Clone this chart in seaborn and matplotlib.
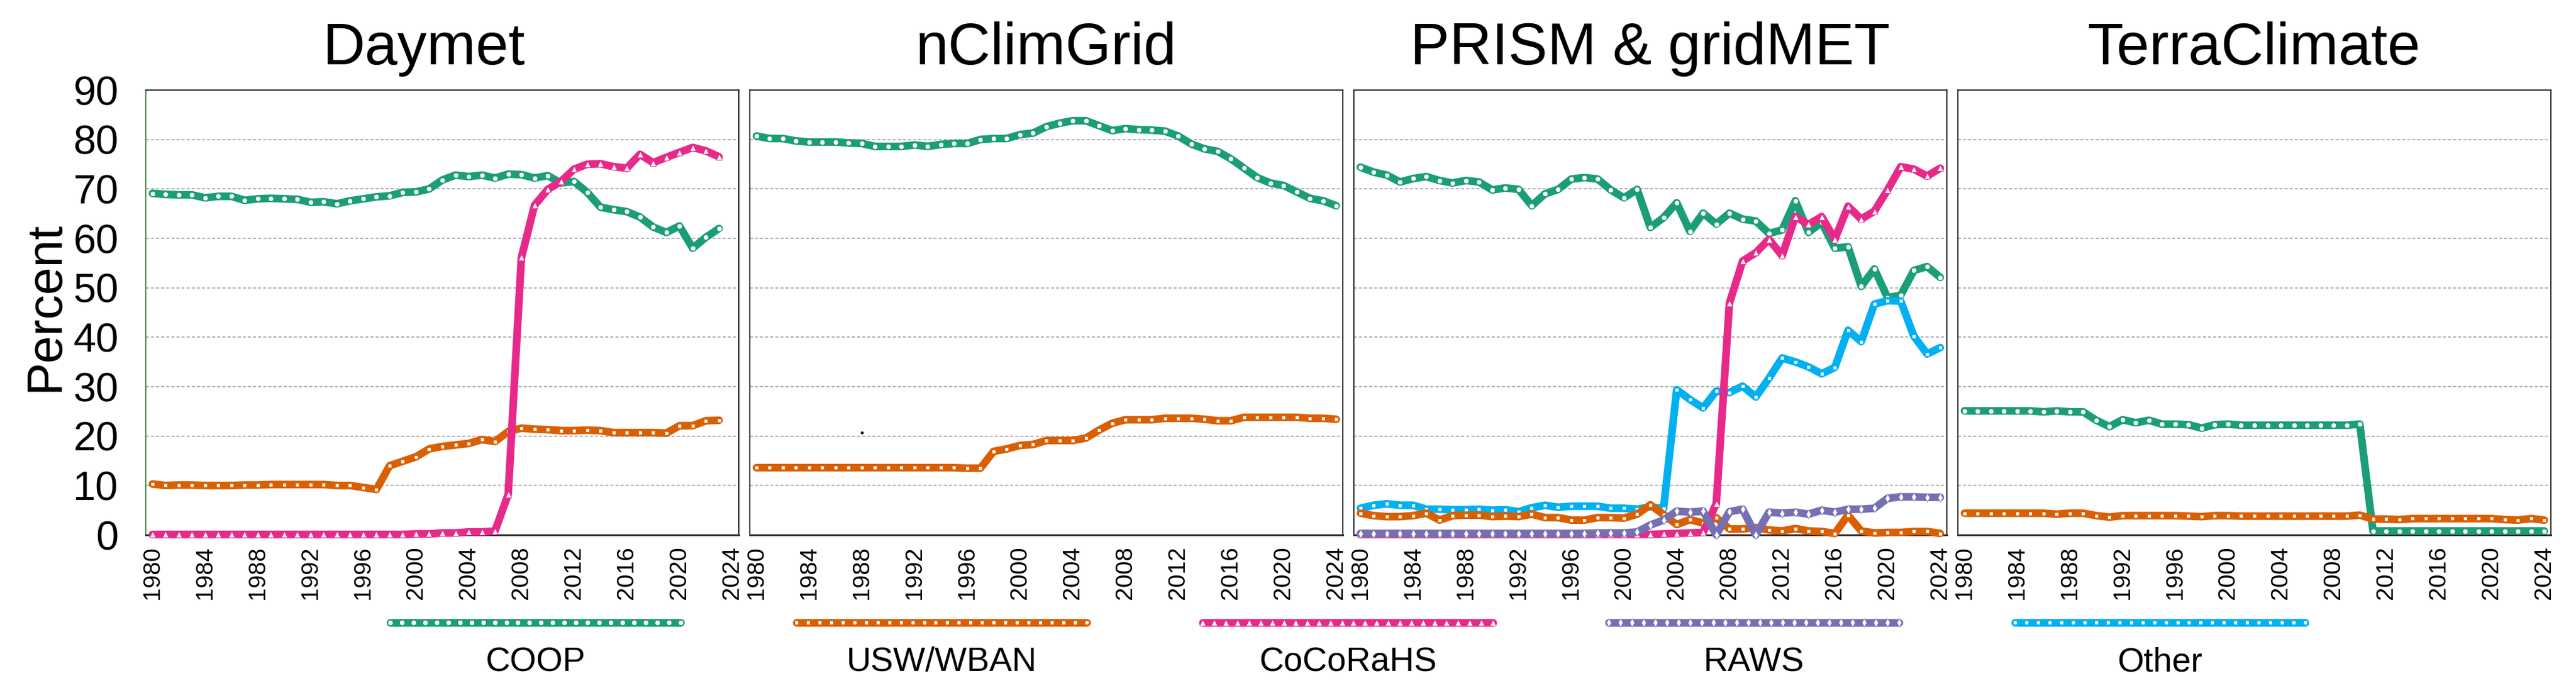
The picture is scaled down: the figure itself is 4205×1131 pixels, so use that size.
import numpy as np
import pandas as pd
import seaborn as sns
import matplotlib.pyplot as plt
from matplotlib.lines import Line2D

# Category axis: one slot per year, 1980-2024
years = list(range(1980, 2025))

# Daymet (no 2024 value)
daymet_coop = [69.1, 68.9, 68.8, 68.8, 68.2, 68.5, 68.5, 67.7, 68.0, 68.1,
               68.0, 67.9, 67.3, 67.4, 67.0, 67.6, 68.0, 68.4, 68.6, 69.3,
               69.4, 70.0, 71.8, 72.8, 72.5, 72.8, 72.2, 73.0, 72.9, 72.2,
               72.7, 71.2, 71.5, 69.3, 66.3, 65.8, 65.4, 64.3, 62.3, 61.2,
               62.5, 58.0, 60.2, 62.0]
daymet_usw = [10.3, 10.0, 10.1, 10.1, 10.0, 10.0, 10.0, 10.1, 10.1, 10.2,
              10.2, 10.2, 10.2, 10.2, 10.0, 10.0, 9.6, 9.2, 14.0, 14.9,
              15.8, 17.4, 17.9, 18.2, 18.5, 19.3, 18.9, 20.9, 21.6, 21.4,
              21.3, 21.1, 21.1, 21.2, 21.1, 20.7, 20.7, 20.7, 20.7, 20.6,
              22.1, 22.1, 23.1, 23.2]
daymet_cocorahs = [0.1, 0.1, 0.1, 0.1, 0.1, 0.1, 0.1, 0.1, 0.1, 0.1,
                   0.1, 0.1, 0.1, 0.1, 0.1, 0.1, 0.1, 0.1, 0.1, 0.1,
                   0.2, 0.2, 0.4, 0.4, 0.6, 0.6, 0.8, 8.2, 56.1, 66.7,
                   69.9, 71.5, 74.0, 75.0, 75.1, 74.5, 74.2, 77.0, 75.3, 76.4,
                   77.4, 78.4, 77.7, 76.5]

# nClimGrid
nclimgrid_coop = [80.7, 80.2, 80.2, 79.7, 79.5, 79.5, 79.5, 79.3, 79.2, 78.6,
                  78.6, 78.6, 78.9, 78.6, 79.0, 79.2, 79.2, 80.0, 80.2, 80.2,
                  81.0, 81.3, 82.6, 83.3, 83.8, 83.8, 82.8, 81.8, 82.2, 82.0,
                  81.9, 81.7, 80.7, 79.1, 78.1, 77.6, 76.1, 74.2, 72.3, 71.2,
                  70.7, 69.4, 68.1, 67.6, 66.6]
nclimgrid_usw = [13.6, 13.6, 13.6, 13.6, 13.6, 13.6, 13.6, 13.6, 13.6, 13.6,
                 13.6, 13.6, 13.6, 13.6, 13.6, 13.6, 13.5, 13.5, 16.9, 17.4,
                 18.1, 18.3, 19.1, 19.1, 19.1, 19.6, 21.2, 22.6, 23.3, 23.3,
                 23.3, 23.6, 23.6, 23.6, 23.4, 23.1, 23.1, 23.8, 23.8, 23.8,
                 23.8, 23.8, 23.6, 23.6, 23.4]
stray_year = [1988]
stray_value = [20.7]

# PRISM & gridMET
prism_coop = [74.4, 73.4, 72.8, 71.4, 72.1, 72.5, 71.7, 71.2, 71.7, 71.4,
              69.8, 70.2, 69.9, 66.6, 69.0, 69.9, 72.0, 72.3, 72.0, 69.8,
              68.2, 69.9, 62.2, 64.2, 67.2, 61.4, 65.1, 62.9, 65.1, 63.9,
              63.5, 61.0, 61.7, 67.6, 61.2, 63.2, 58.0, 58.3, 50.3, 53.8,
              48.0, 48.5, 53.5, 54.3, 52.1]
prism_usw = [4.4, 3.9, 3.7, 3.7, 3.9, 4.4, 3.0, 3.9, 4.0, 4.0,
             3.7, 3.8, 3.7, 4.2, 3.5, 3.5, 3.0, 3.0, 3.5, 3.5,
             3.4, 4.2, 6.1, 4.1, 2.1, 3.1, 2.4, 3.5, 1.2, 1.2,
             1.5, 1.0, 0.8, 1.3, 0.8, 0.7, 0.3, 4.0, 0.8, 0.4,
             0.5, 0.5, 0.7, 0.7, 0.3]
prism_cocorahs = [0.1, 0.1, 0.1, 0.1, 0.1, 0.1, 0.1, 0.1, 0.1, 0.1,
                  0.1, 0.1, 0.1, 0.1, 0.1, 0.1, 0.1, 0.1, 0.1, 0.1,
                  0.1, 0.1, 0.1, 0.2, 0.3, 0.4, 0.5, 6.3, 46.9, 55.4,
                  57.1, 59.8, 56.5, 64.4, 62.8, 64.4, 59.8, 66.5, 63.9, 65.5,
                  69.8, 74.5, 74.0, 72.6, 74.2]
prism_raws = [0.3, 0.3, 0.3, 0.3, 0.3, 0.3, 0.3, 0.3, 0.3, 0.3,
              0.3, 0.3, 0.3, 0.3, 0.3, 0.3, 0.3, 0.3, 0.4, 0.4,
              0.4, 0.6, 2.0, 3.0, 4.8, 4.6, 4.8, 0.0, 4.7, 5.2,
              0.0, 4.6, 4.4, 4.6, 4.2, 5.0, 4.6, 5.2, 5.2, 5.4,
              7.4, 7.7, 7.7, 7.6, 7.6]
prism_other = [5.4, 6.0, 6.3, 6.0, 6.0, 5.2, 5.2, 5.1, 5.1, 5.2,
               5.0, 5.1, 4.7, 5.5, 6.0, 5.6, 5.8, 5.8, 5.8, 5.4,
               5.4, 5.2, 5.7, 5.3, 29.4, 27.4, 25.7, 29.1, 28.8, 30.1,
               27.9, 31.7, 35.8, 35.0, 34.0, 32.6, 33.9, 41.4, 39.1, 46.7,
               47.4, 47.3, 40.2, 36.6, 37.9]

# TerraClimate
terra_coop = [25.1, 25.1, 25.1, 25.1, 25.1, 25.1, 24.9, 25.1, 24.9, 24.9,
              23.2, 21.9, 23.3, 22.7, 23.2, 22.4, 22.4, 22.3, 21.6, 22.3,
              22.4, 22.2, 22.2, 22.2, 22.2, 22.2, 22.2, 22.2, 22.2, 22.2,
              22.4, 0.8, 0.8, 0.8, 0.8, 0.8, 0.8, 0.8, 0.8, 0.8,
              0.8, 0.8, 0.8, 0.8, 0.8]
terra_usw = [4.4, 4.4, 4.4, 4.4, 4.4, 4.4, 4.4, 4.2, 4.4, 4.4,
             3.9, 3.6, 3.9, 3.9, 3.9, 3.9, 3.9, 3.8, 3.7, 3.9,
             3.9, 3.8, 3.8, 3.8, 3.8, 3.8, 3.8, 3.8, 3.8, 3.8,
             4.0, 3.2, 3.2, 3.1, 3.3, 3.3, 3.3, 3.3, 3.3, 3.3,
             3.3, 3.1, 3.0, 3.3, 3.0]

networks = ['COOP', 'USW/WBAN', 'CoCoRaHS', 'RAWS', 'Other']
colors = {'COOP': '#1b9e77', 'USW/WBAN': '#d95f02', 'CoCoRaHS': '#e7298a',
          'RAWS': '#7570b3', 'Other': '#00b0f0'}
markers = {'COOP': 'o', 'USW/WBAN': 's', 'CoCoRaHS': '^', 'RAWS': 'd', 'Other': 's'}
msizes = {'COOP': 6.0, 'USW/WBAN': 4.9, 'CoCoRaHS': 6.6, 'RAWS': 7.0, 'Other': 4.9}
zorders = {'COOP': 3.0, 'Other': 3.1, 'USW/WBAN': 3.2, 'CoCoRaHS': 3.3, 'RAWS': 3.4}

panels = [
    ('Daymet', {'COOP': daymet_coop, 'USW/WBAN': daymet_usw, 'CoCoRaHS': daymet_cocorahs}),
    ('nClimGrid', {'COOP': nclimgrid_coop, 'USW/WBAN': nclimgrid_usw}),
    ('PRISM & gridMET', {'COOP': prism_coop, 'USW/WBAN': prism_usw, 'CoCoRaHS': prism_cocorahs,
                         'RAWS': prism_raws, 'Other': prism_other}),
    ('TerraClimate', {'COOP': terra_coop, 'USW/WBAN': terra_usw}),
]

sns.set_style("white")
plt.rcParams['font.family'] = ['Liberation Sans', 'DejaVu Sans']
for key in ['text.color', 'axes.labelcolor', 'xtick.color', 'ytick.color']:
    plt.rcParams[key] = 'black'
AXIS_GREEN = '#2f7d32'
LW = 9

W, H = 4205, 1131
fig, axes = plt.subplots(1, 4, figsize=(W / 100, H / 100), dpi=100, sharey=True)
fig.subplots_adjust(left=238 / W, right=4164 / W, bottom=258 / H, top=1 - 147 / H, wspace=0.0186)

for i, (ax, (title, series)) in enumerate(zip(axes, panels)):
    for name, vals in series.items():
        df = pd.DataFrame({'idx': np.arange(len(vals)), 'pct': vals})
        c = colors[name]
        sns.lineplot(data=df, x='idx', y='pct', ax=ax, color=c, linewidth=LW,
                     marker=markers[name], markersize=msizes[name],
                     markerfacecolor='white', markeredgecolor=c, markeredgewidth=0.6,
                     estimator=None, legend=False, clip_on=False, zorder=zorders[name])

    ax.set_xlim(-0.5, len(years) - 0.5)
    ax.set_ylim(0, 90)
    ax.set_yticks(range(0, 91, 10))
    ax.set_xlabel('')
    ax.set_ylabel('')

    # category ticks: marks between years, labels every 4th year
    ax.set_xticks(np.arange(len(years) + 1) - 0.5, minor=True)
    ax.set_xticks(range(0, len(years), 4))
    ax.set_xticklabels([str(years[k]) for k in range(0, len(years), 4)])
    ax.tick_params(axis='x', which='major', length=0, pad=13, labelsize=28, labelrotation=90)
    ax.tick_params(axis='x', which='minor', direction='inout', length=19, width=1.2, color='black')

    ax.yaxis.grid(True, color='#a0a0a0', linestyle=(0, (3, 2)), linewidth=1.2)
    ax.xaxis.grid(False)
    ax.set_axisbelow(True)

    for side in ['top', 'right', 'left']:
        ax.spines[side].set_color('black')
        ax.spines[side].set_linewidth(1.2)
    ax.spines['bottom'].set_color('#333333')
    ax.spines['bottom'].set_linewidth(2.2)

    ax.set_title(title, fontsize=69, pad=30, x=0.468 if i == 0 else 0.5)

    if i == 0:
        ax.spines['left'].set_color(AXIS_GREEN)
        ax.tick_params(axis='y', which='major', direction='out', length=12, width=1.1,
                       color=AXIS_GREEN, labelsize=48, pad=20)
        ax.set_ylabel('Percent', fontsize=58)
        ax.yaxis.set_label_coords(-0.13, 0.513)
    else:
        ax.tick_params(axis='y', left=False, labelleft=False)

# small stray dot in the nClimGrid panel
sns.scatterplot(x=[years.index(y) for y in stray_year], y=stray_value, color='black',
                s=14, ax=axes[1], legend=False, zorder=4)
axes[1].set_xlabel('')
axes[1].set_ylabel('')

# legend: line samples in one row, names centred underneath
handles = [Line2D([], [], color=colors[n], lw=LW, marker=markers[n], ms=msizes[n],
                  mfc='white', mec=colors[n], mew=0.6) for n in networks]
leg = fig.legend(handles, [''] * len(networks), loc='center',
                 bbox_to_anchor=(2200 / W, 1 - 1022 / H), ncol=len(networks), numpoints=26,
                 handlelength=8.35, handletextpad=0, columnspacing=2.5, frameon=False,
                 fontsize=44)

fig.canvas.draw()
renderer = fig.canvas.get_renderer()
for h, name in zip(leg.legend_handles, networks):
    bb = h.get_window_extent(renderer)
    fig.text((bb.x0 + bb.x1) / 2 / fig.bbox.width, 1 - 1095 / H, name,
             ha='center', va='baseline', fontsize=40)

fig.savefig('out.png', dpi=100)
